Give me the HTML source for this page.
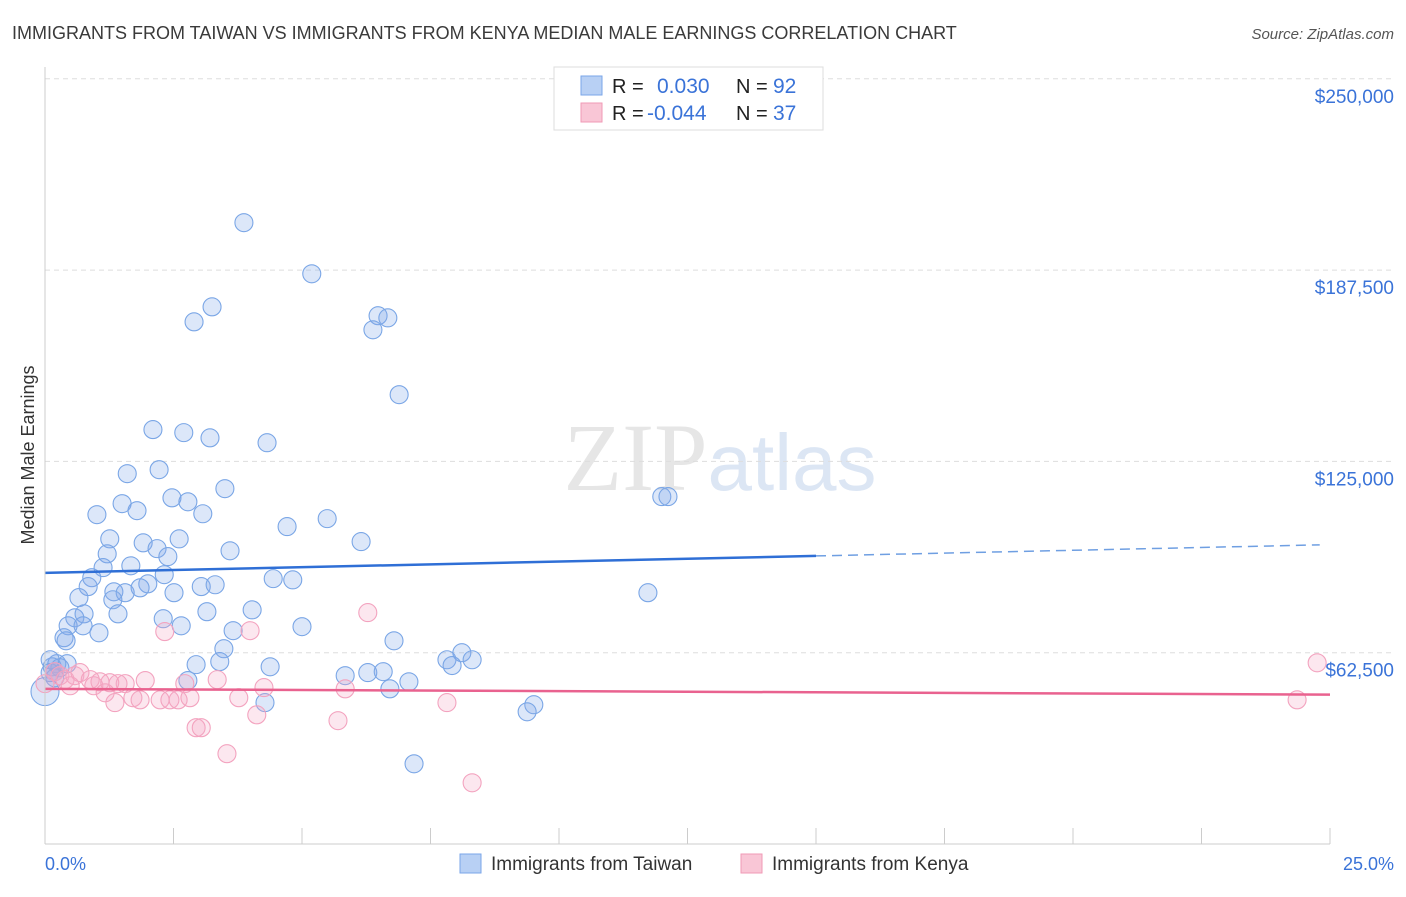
<!DOCTYPE html>
<html><head><meta charset="utf-8"><style>
body{margin:0;background:#fff;font-family:"Liberation Sans",sans-serif;}
svg text{font-family:"Liberation Sans",sans-serif;}
</style></head><body>
<svg id="c" width="1406" height="892" xmlns="http://www.w3.org/2000/svg">
<text x="12" y="39" font-size="18" fill="#3a3a3a">IMMIGRANTS FROM TAIWAN VS IMMIGRANTS FROM KENYA MEDIAN MALE EARNINGS CORRELATION CHART</text>
<text x="1394" y="39" font-size="15" fill="#555" font-style="italic" text-anchor="end">Source: ZipAtlas.com</text>
<text x="720" y="490" font-size="96" fill="#e6e6e6" text-anchor="middle" font-family="Liberation Serif"><tspan font-family="Liberation Serif">ZIP</tspan><tspan fill="#dce6f4" font-family="Liberation Sans" font-size="80">atlas</tspan></text>
<text transform="translate(34,455) rotate(-90)" font-size="18" fill="#333" text-anchor="middle">Median Male Earnings</text>
<g id="grid"></g><g id="ticks"></g><g id="pts"></g><g id="trend"></g>
<line x1="45" y1="67" x2="45" y2="844" stroke="#ccc"/>
<line x1="45" y1="844" x2="1330" y2="844" stroke="#ccc"/>
<text x="45" y="870" font-size="18" fill="#3a73d8">0.0%</text>
<text x="1394" y="870" font-size="18" fill="#3a73d8" text-anchor="end">25.0%</text>
<g>
<rect x="554" y="67" width="269" height="63" fill="#fff" stroke="#ddd"/>
<rect x="581" y="76" width="21" height="19" fill="#b8d0f4" stroke="#7aa6e8"/>
<rect x="581" y="103" width="21" height="19" fill="#f9c6d6" stroke="#f09ab6"/>
<text x="612" y="93" font-size="20" fill="#222">R = </text><text x="657" y="93" font-size="21" fill="#3a73d8">0.030</text>
<text x="736" y="93" font-size="20" fill="#222">N = </text><text x="773" y="93" font-size="21" fill="#3a73d8">92</text>
<text x="612" y="120" font-size="20" fill="#222">R = </text><text x="647" y="120" font-size="21" fill="#3a73d8">-0.044</text>
<text x="736" y="120" font-size="20" fill="#222">N = </text><text x="773" y="120" font-size="21" fill="#3a73d8">37</text>
</g>
<g><rect x="460" y="854" width="21" height="19" fill="#b8d0f4" stroke="#7aa6e8"/><text x="491" y="870" font-size="19" fill="#333">Immigrants from Taiwan</text></g>
<g><rect x="741" y="854" width="21" height="19" fill="#f9c6d6" stroke="#f09ab6"/><text x="772" y="870" font-size="19" fill="#333">Immigrants from Kenya</text></g>
</svg>
<script>
const yTicks=[62.5,125,187.5,250];
const yTickLabels=["$62,500","$125,000","$187,500","$250,000"];
const xTicks=[0,2.5,5,7.5,10,12.5,15,17.5,20,22.5,25];
const taiwanX=[3.87,5.19,3.25,2.90,6.48,6.67,6.38,6.89,2.10,2.70,3.21,4.32,1.60,2.22,3.50,2.47,2.78,1.50,1.79,1.01,3.07,5.49,4.71,6.15,1.26,1.91,3.60,1.21,2.18,2.39,2.61,1.67,1.13,0.91,2.32,2.00,0.84,4.44,4.82,3.04,3.31,2.51,1.34,1.56,0.66,1.32,1.85,0.58,0.76,1.42,3.15,4.03,2.30,0.45,0.74,2.65,5.00,3.66,1.05,0.37,0.41,6.79,3.48,11.73,12.00,12.12,3.40,2.94,4.38,0.23,0.14,0.29,0.19,0.10,7.82,8.11,8.31,7.92,5.84,6.28,6.58,7.08,6.71,2.78,4.28,9.51,9.38,7.18,0,0.19,0.43,0.10];
const taiwanY=[203.0,186.3,175.5,170.6,172.6,171.9,168.0,146.8,135.4,134.4,132.7,131.1,121.0,122.3,116.1,113.1,111.8,111.2,108.9,107.6,107.9,106.3,103.7,98.8,99.7,98.4,95.8,94.8,96.5,93.9,99.7,90.9,90.3,87.0,88.0,85.0,84.1,86.7,86.3,84.1,84.7,82.1,82.4,82.1,80.5,79.8,83.7,73.9,75.2,75.2,75.9,76.5,73.6,71.3,71.3,71.3,71.0,69.7,69.0,67.4,66.4,66.4,63.8,82.1,113.5,113.5,59.6,58.6,57.9,58.9,57.9,57.6,56.3,56.0,60.2,62.5,60.2,58.3,55.0,56.0,56.3,53.0,50.7,53.4,46.2,45.5,43.2,26.2,49.8,54.3,58.9,60.2];
const kenyaX=[0.19,0.29,0.39,0.58,0.68,0.88,0.95,1.07,1.17,1.36,1.42,1.56,1.71,1.85,1.95,2.24,2.33,2.43,2.59,2.72,2.82,2.94,3.04,3.35,3.54,3.77,3.99,4.12,4.26,5.70,5.84,6.28,7.82,8.31,24.36,24.75,0,0.49,1.26];
const kenyaY=[56.3,55.0,53.7,55.0,56.0,53.7,51.7,53.0,49.4,46.2,52.4,52.4,47.8,47.1,53.4,47.1,69.4,47.1,47.1,52.4,47.8,38.0,38.0,53.7,29.5,47.8,69.7,42.2,51.1,40.3,50.7,75.6,46.2,20.0,47.1,59.2,52.4,51.7,52.7];
const taiwanTrend=[88.6,97.8];
const kenyaTrend=[50.7,48.8];
const NS="http://www.w3.org/2000/svg";
function sx(p){return 45+p/25*1285;}
function sy(v){return 844-v/62.5*191.3;}
function mk(t,a,parent){const e=document.createElementNS(NS,t);for(const k in a)e.setAttribute(k,a[k]);document.getElementById(parent).appendChild(e);return e;}
yTicks.forEach((v,i)=>{
 const g=mk('line',{x1:45,x2:1395,y1:sy(v),y2:sy(v),stroke:'#ddd','stroke-dasharray':'5,4'},'grid');
 
 
 const t=mk('text',{x:1394,y:sy(v)+24,'font-size':19,fill:'#3a73d8','text-anchor':'end'},'grid');
 t.textContent=yTickLabels[i];
 
 
});
xTicks.forEach(p=>{
 const l=mk('line',{x1:sx(p),x2:sx(p),y1:828,y2:844,stroke:'#ccc'},'ticks');
 
 
});
taiwanX.forEach((x,i)=>{
 const r=(x===0)?14:9;
 const c=mk('circle',{cx:sx(x),cy:sy(taiwanY[i]),r:r,fill:'rgba(130,170,232,0.28)',stroke:'#7aa6e6','stroke-width':1.1},'pts');
 
 
});
kenyaX.forEach((x,i)=>{
 const c=mk('circle',{cx:sx(x),cy:sy(kenyaY[i]),r:9,fill:'rgba(245,170,198,0.28)',stroke:'#f3a3bf','stroke-width':1.1},'pts');
 
 
});
function ty(tr,p){return tr[0]+(tr[1]-tr[0])*p/25;}
const b1=mk('line',{x1:sx(0),y1:sy(ty(taiwanTrend,0)),x2:sx(15),y2:sy(ty(taiwanTrend,15)),stroke:'#2f6fd6','stroke-width':2.5},'trend');


const b2=mk('line',{x1:sx(15),y1:sy(ty(taiwanTrend,15)),x2:sx(24.8),y2:sy(ty(taiwanTrend,24.8)),stroke:'#6f9fe2','stroke-width':1.5,'stroke-dasharray':'10,6'},'trend');


const k1=mk('line',{x1:sx(0),y1:sy(ty(kenyaTrend,0)),x2:sx(25),y2:sy(ty(kenyaTrend,25)),stroke:'#e9628f','stroke-width':2.5},'trend');


</script>
</body></html>
